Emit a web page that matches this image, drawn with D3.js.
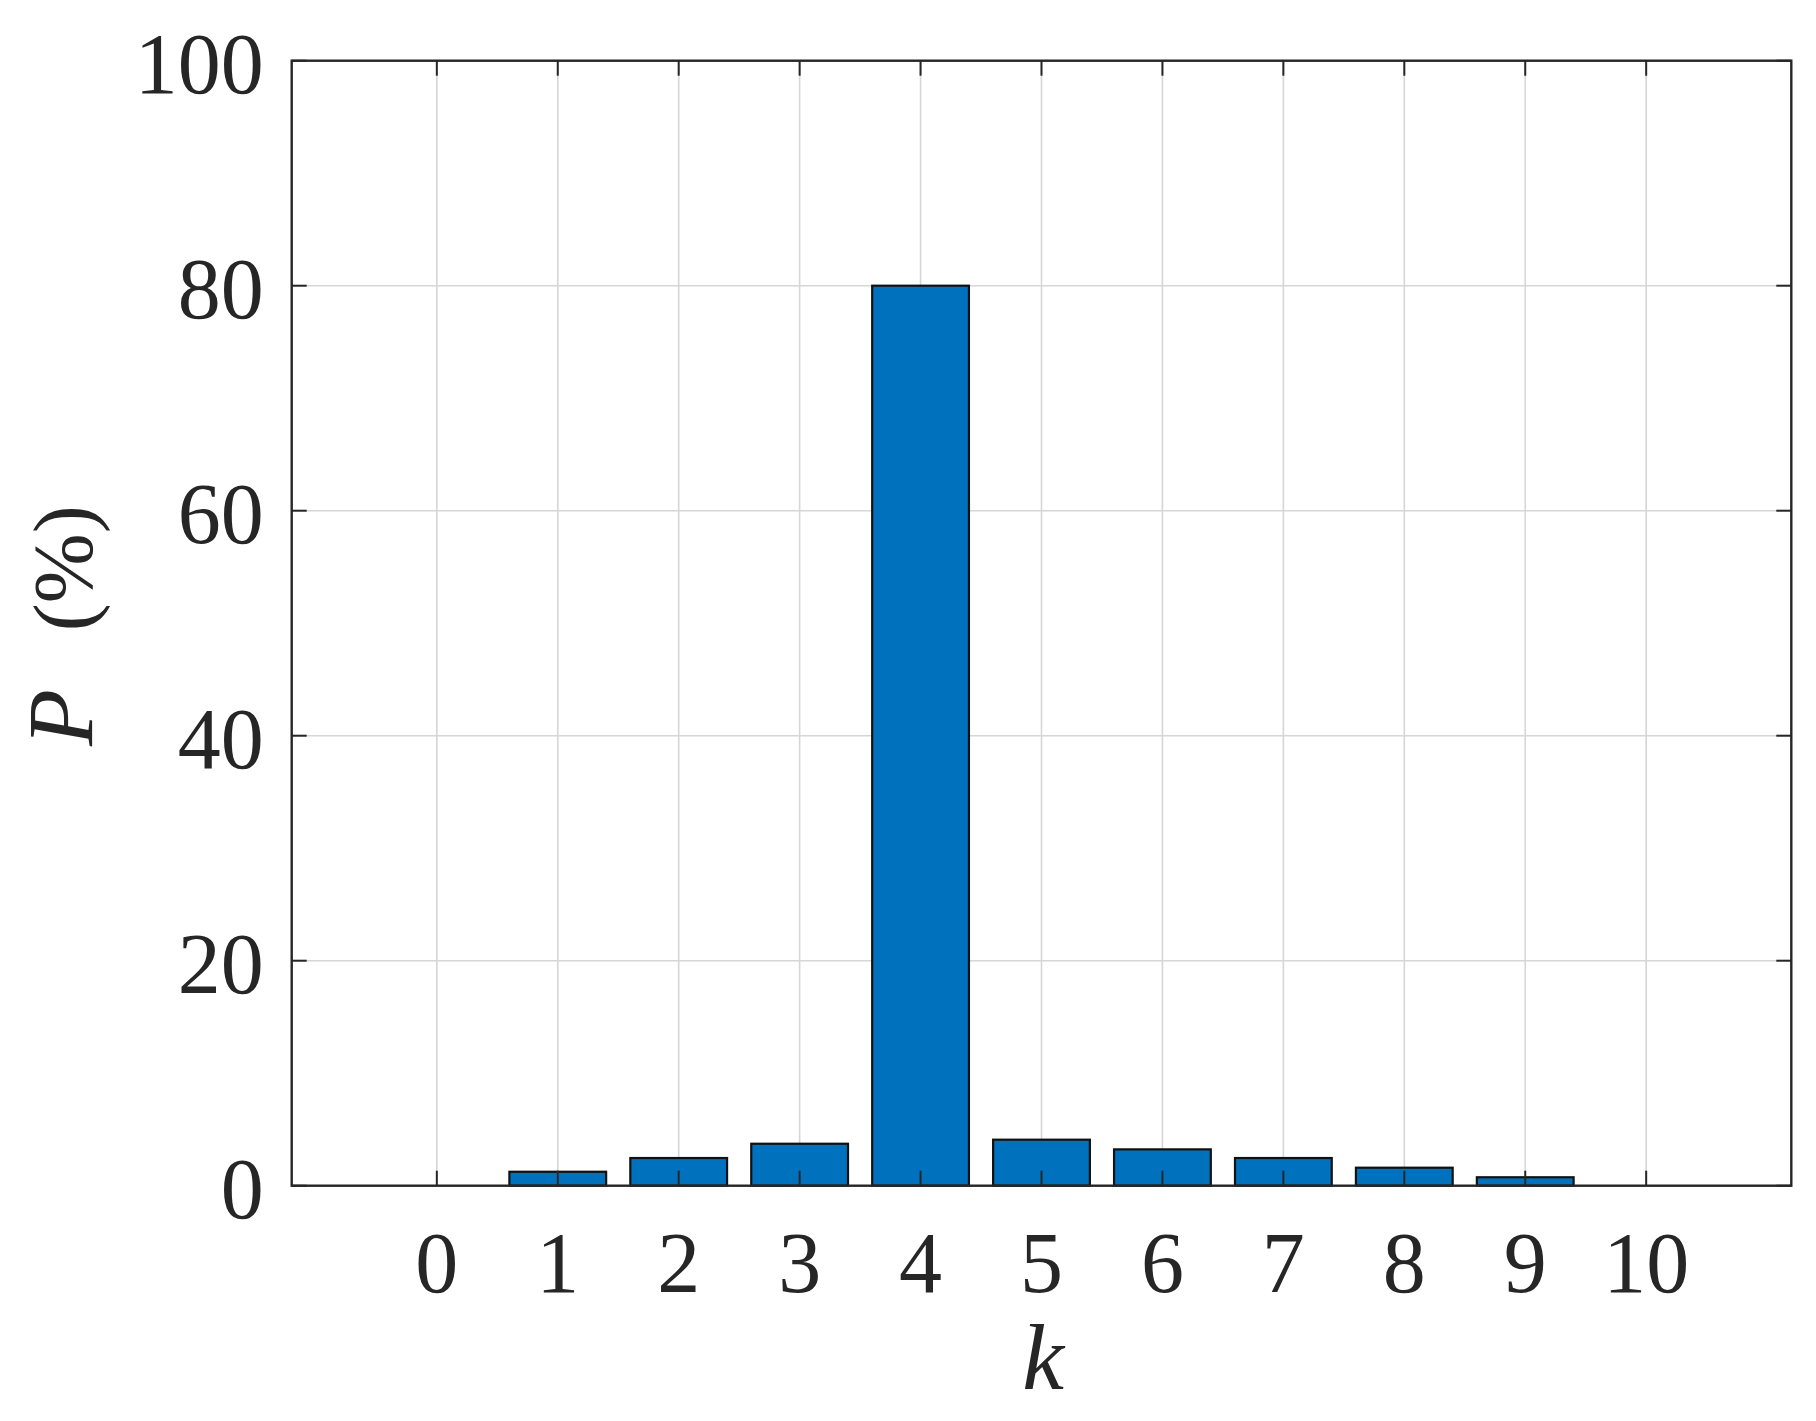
<!DOCTYPE html>
<html><head><meta charset="utf-8">
<script src="https://cdn.jsdelivr.net/npm/d3@7"></script>
<style>body{margin:0;background:#fff}svg{display:block}</style>
</head><body>
<script>
const categories = [0,1,2,3,4,5,6,7,8,9,10];
const values = [0,1.24,2.46,3.73,80,4.09,3.23,2.46,1.6,0.75,0];
const yTicks = [0,20,40,60,80,100];
const xTicks = [0,1,2,3,4,5,6,7,8,9,10];

const W=1816,H=1421;
const m={l:291.7,r:1791.3,t:60.7,b:1185.7};
const svg=d3.select("body").append("svg").attr("width",W).attr("height",H);
const x=d3.scaleLinear().domain([-1.2,11.2]).range([m.l,m.r]);
const y=d3.scaleLinear().domain([0,100]).range([m.b,m.t]);
const axc="#262626", fs=86, font="Liberation Serif, Times New Roman, serif";

const g=svg.append("g");
g.selectAll(".gx").data(xTicks).enter().append("line")
 .attr("x1",d=>x(d)).attr("x2",d=>x(d)).attr("y1",m.t).attr("y2",m.b)
 .attr("stroke","#d6d6d6").attr("stroke-width",1.6);
g.selectAll(".gy").data(yTicks).enter().append("line")
 .attr("y1",d=>y(d)).attr("y2",d=>y(d)).attr("x1",m.l).attr("x2",m.r)
 .attr("stroke","#d6d6d6").attr("stroke-width",1.6);

const bw=0.8;
svg.selectAll(".bar").data(categories).enter().append("rect")
 .attr("x",(d)=>x(d-bw/2)).attr("width",x(bw)-x(0))
 .attr("y",(d,i)=>y(values[i])).attr("height",(d,i)=>y(0)-y(values[i]))
 .attr("fill","#0072BD").attr("stroke","#111").attr("stroke-width",2.2);

const tl=15;
const tk=svg.append("g").attr("stroke",axc).attr("stroke-width",2);
xTicks.forEach(d=>{
  tk.append("line").attr("x1",x(d)).attr("x2",x(d)).attr("y1",m.b).attr("y2",m.b-tl);
  tk.append("line").attr("x1",x(d)).attr("x2",x(d)).attr("y1",m.t).attr("y2",m.t+tl);
});
yTicks.forEach(d=>{
  tk.append("line").attr("y1",y(d)).attr("y2",y(d)).attr("x1",m.l).attr("x2",m.l+tl);
  tk.append("line").attr("y1",y(d)).attr("y2",y(d)).attr("x1",m.r).attr("x2",m.r-tl);
});
svg.append("rect").attr("x",m.l).attr("y",m.t).attr("width",m.r-m.l).attr("height",m.b-m.t)
 .attr("fill","none").attr("stroke",axc).attr("stroke-width",2.4);

svg.selectAll(".xl").data(xTicks).enter().append("text")
 .attr("x",d=>x(d)).attr("y",m.b+106).attr("text-anchor","middle")
 .style("font-family",font).attr("font-size",fs).attr("fill",axc).text(d=>d);
svg.selectAll(".yl").data(yTicks).enter().append("text")
 .attr("x",m.l-28).attr("y",d=>y(d)+32).attr("text-anchor","end")
 .style("font-family",font).attr("font-size",fs).attr("fill",axc).text(d=>d);

svg.append("text").attr("x",1043).attr("y",1389).attr("text-anchor","middle")
 .style("font-family",font).attr("font-size",94).attr("font-style","italic").attr("fill",axc).text("k");
const yl=svg.append("text").attr("transform",`translate(92,746) rotate(-90)`)
 .attr("text-anchor","start").style("font-family",font).attr("fill",axc);
yl.append("tspan").attr("font-style","italic").attr("font-size",93).text("P");
yl.append("tspan").attr("dx",58).attr("font-size",84).text("(%)");
</script>
</body></html>
